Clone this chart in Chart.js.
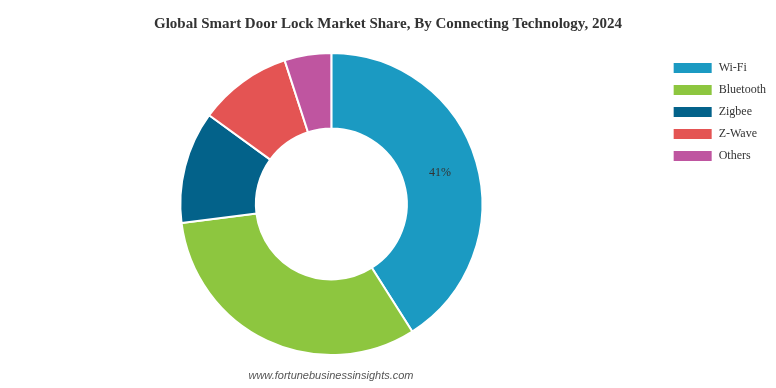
<!DOCTYPE html>
<html>
<head>
<meta charset="utf-8">
<script src="https://cdn.jsdelivr.net/npm/chart.js@4/dist/chart.umd.min.js"></script>
<style>
html,body{margin:0;padding:0;background:#fff;}
#wrap{width:776px;height:388px;position:relative;}
</style>
</head>
<body>
<div id="wrap"><canvas id="c" width="776" height="388"></canvas></div>
<script>
const categories = ["Wi-Fi", "Bluetooth", "Zigbee", "Z-Wave", "Others"];
const shares = [41, 32, 12, 10, 5];
const shownLabels = ["41%", "", "", "", ""];
const colors = ["#1b9ac2", "#8dc63f", "#03628a", "#e45453", "#bf55a0"];
const titleText = "Global Smart Door Lock Market Share, By Connecting Technology, 2024";
const sourceText = "www.fortunebusinessinsights.com";

const labelPlugin = {
  id: "sliceLabels",
  afterDatasetsDraw(chart) {
    const ctx = chart.ctx;
    const meta = chart.getDatasetMeta(0);
    ctx.save();
    ctx.font = "12px 'Liberation Serif', 'Times New Roman', serif";
    ctx.fillStyle = "#333";
    ctx.textAlign = "center";
    ctx.textBaseline = "middle";
    meta.data.forEach((arc, i) => {
      if (!shownLabels[i]) return;
      const p = arc.tooltipPosition();
      ctx.fillText(shownLabels[i], p.x, p.y);
    });
    ctx.restore();
  }
};
const sourcePlugin = {
  id: "sourceText",
  afterDraw(chart) {
    const ctx = chart.ctx;
    ctx.save();
    ctx.font = "italic 11px 'Liberation Sans', Arial, sans-serif";
    ctx.fillStyle = "#555";
    ctx.textAlign = "center";
    ctx.textBaseline = "middle";
    ctx.fillText(sourceText, 331, 376);
    ctx.restore();
  }
};

new Chart(document.getElementById("c"), {
  type: "doughnut",
  data: {
    labels: categories,
    datasets: [{
      data: shares,
      backgroundColor: colors,
      borderColor: "#fff",
      borderWidth: 2,
      hoverOffset: 0
    }]
  },
  options: {
    responsive: false,
    animation: false,
    cutout: "50%",
    layout: { padding: { top: 0, bottom: 32, left: 0, right: 0 } },
    plugins: {
      title: {
        display: true,
        text: titleText,
        color: "#333",
        font: { family: "'Liberation Serif', 'Times New Roman', serif", size: 15, weight: "bold" },
        padding: { top: 15, bottom: 19 }
      },
      legend: {
        position: "right",
        align: "start",
        title: {
          display: true,
          text: " ",
          font: { size: 10, lineHeight: 1.2 },
          padding: { top: 40, bottom: 0 }
        },
        labels: {
          boxWidth: 40,
          boxHeight: 12,
          padding: 10,
          color: "#333",
          font: { family: "'Liberation Serif', 'Times New Roman', serif", size: 12 }
        }
      },
      tooltip: { enabled: false }
    }
  },
  plugins: [labelPlugin, sourcePlugin]
});
</script>
</body>
</html>
